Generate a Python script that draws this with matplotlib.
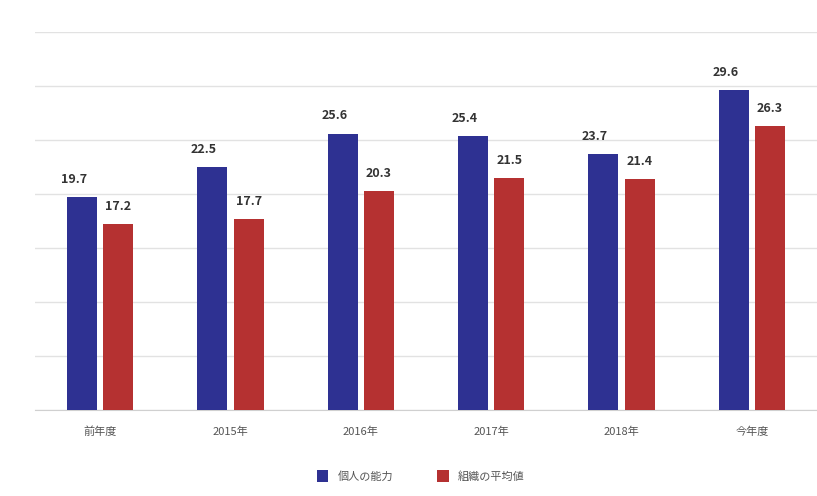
import matplotlib
matplotlib.use("Agg")
import matplotlib.pyplot as plt
import numpy as np

plt.rcParams['font.family'] = ['Noto Sans CJK JP', 'DejaVu Sans']

categories = ["前年度", "2015年", "2016年", "2017年", "2018年", "今年度"]
series_names = ["個人の能力", "組織の平均値"]
blue_vals = [19.7, 22.5, 25.6, 25.4, 23.7, 29.6]
red_vals = [17.2, 17.7, 20.3, 21.5, 21.4, 26.3]

blue = "#2e3192"
red = "#b53131"

fig = plt.figure(figsize=(8.17, 4.96), dpi=100)
ax = fig.add_axes([35/817, 86/496, 782/817, 378/496])

x = np.arange(len(categories))
w = 0.23
off = 0.14
b1 = ax.bar(x - off, blue_vals, w, color=blue, label=series_names[0], zorder=3)
b2 = ax.bar(x + off, red_vals, w, color=red, label=series_names[1], zorder=3)

for xi, v in zip(x - off, blue_vals):
    ax.annotate(f"{v}", (xi, v), xytext=(-6, 8), textcoords="offset points",
                ha="center", va="bottom", fontsize=9, fontweight="bold", color="#333333")
for xi, v in zip(x + off, red_vals):
    ax.annotate(f"{v}", (xi, v), xytext=(0, 8), textcoords="offset points",
                ha="center", va="bottom", fontsize=9, fontweight="bold", color="#333333")

ax.set_xlim(-0.5, 5.5)
ax.set_ylim(0, 35)
ax.set_yticks(np.arange(0, 36, 5))
ax.yaxis.grid(True, color="#e2e2e2", linewidth=1, zorder=0)
ax.set_yticklabels([])
ax.tick_params(axis="y", length=0)
ax.set_xticks(x)
ax.set_xticklabels(categories, fontsize=8, color="#555555")
ax.tick_params(axis="x", length=0, pad=12)
for s in ["top", "right", "left"]:
    ax.spines[s].set_visible(False)
ax.spines["bottom"].set_color("#d0d0d0")

fig.legend(handles=[b1, b2], labels=series_names, loc="center", bbox_to_anchor=(0.515, 0.04),
           ncol=2, frameon=False, fontsize=8, handlelength=1.0, handleheight=1.3,
           columnspacing=4, labelcolor="#555555")

fig.savefig("out.png", dpi=100, facecolor="white")
